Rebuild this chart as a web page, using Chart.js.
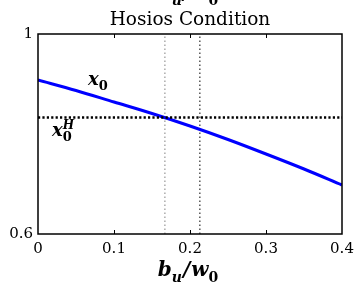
<!DOCTYPE html>
<html>
<head>
<meta charset="utf-8">
<script src="https://cdn.jsdelivr.net/npm/chart.js@4.4.0/dist/chart.umd.min.js"></script>
<style>
  html, body { margin: 0; padding: 0; background: #fff; }
  #wrap { width: 355px; height: 283px; position: relative; }
</style>
</head>
<body>
<div id="wrap"><canvas id="hosiosChart"></canvas></div>
<script>
// values
const bwRatio = [0, 0.05, 0.1, 0.15, 0.2, 0.25, 0.3, 0.35, 0.4];
const x0Values = [0.908, 0.887, 0.864, 0.841, 0.816, 0.789, 0.760, 0.730, 0.698];
const hosiosX0 = 0.833;
const greyMark = 0.167;
const blackMark = 0.213;
const xTicks = [0, 0.1, 0.2, 0.3, 0.4];
const yTicks = [0.6, 1];

const serif = "'DejaVu Serif', 'Liberation Serif', serif";

// draw base letter with optional sub / superscript, returns end x
function mathText(ctx, x, y, base, sub, sup, size) {
  ctx.font = "italic bold " + size + "px " + serif;
  ctx.textAlign = "left";
  ctx.textBaseline = "alphabetic";
  ctx.fillText(base, x, y);
  const w = ctx.measureText(base).width;
  let end = x + w;
  if (sub) {
    ctx.font = "bold " + Math.round(size * 0.7) + "px " + serif;
    ctx.fillText(sub, x + w, y + size * 0.28);
    end = Math.max(end, x + w + ctx.measureText(sub).width);
  }
  if (sup) {
    ctx.font = "italic bold " + Math.round(size * 0.65) + "px " + serif;
    ctx.fillText(sup, x + w, y - size * 0.4);
    end = Math.max(end, x + w + ctx.measureText(sup).width);
  }
  return end;
}

function ratioLabel(ctx, cx, y, size) {
  // b_u / w_0 centred at cx
  ctx.font = "italic bold " + size + "px " + serif;
  const wb = ctx.measureText("b").width;
  const wsl = ctx.measureText("/").width;
  const ww = ctx.measureText("w").width;
  ctx.font = "italic bold " + Math.round(size * 0.7) + "px " + serif;
  const wu = ctx.measureText("u").width;
  const w0 = ctx.measureText("0").width;
  const total = wb + wu + wsl + ww + w0 + 2;
  let x = cx - total / 2;
  x = mathText(ctx, x, y, "b", null, null, size);
  ctx.font = "italic bold " + Math.round(size * 0.7) + "px " + serif;
  ctx.fillText("u", x, y + size * 0.28);
  x += wu + 1;
  ctx.font = "italic bold " + size + "px " + serif;
  ctx.fillText("/", x, y);
  x += wsl + 1;
  mathText(ctx, x, y, "w", "0", null, size);
}

const decor = {
  id: "decor",
  afterDatasetsDraw(chart) {
    const ctx = chart.ctx;
    const a = chart.chartArea;
    const xs = chart.scales.x;
    const cx = (a.left + a.right) / 2;
    ctx.save();
    ctx.strokeStyle = "#000";
    ctx.lineWidth = 1.5;
    ctx.strokeRect(a.left, a.top, a.right - a.left, a.bottom - a.top);
    ctx.lineWidth = 1;
    xTicks.slice(1, -1).forEach(v => {
      const px = Math.round(xs.getPixelForValue(v)) + 0.5;
      ctx.beginPath();
      ctx.moveTo(px, a.bottom); ctx.lineTo(px, a.bottom - 4);
      ctx.moveTo(px, a.top); ctx.lineTo(px, a.top + 4);
      ctx.stroke();
    });
    ctx.fillStyle = "#000";
    // title
    ctx.font = "18.5px " + serif;
    ctx.textAlign = "center";
    ctx.textBaseline = "alphabetic";
    ctx.fillText("Hosios Condition", cx, 25);
    mathText(ctx, 88, 85, "x", "0", null, 18);
    mathText(ctx, 52, 136, "x", "0", "H", 18);
    ratioLabel(ctx, cx - 2, 276, 20);
    // label of the panel above, cut off at the top edge
    ratioLabel(ctx, cx - 2, -1, 20);
    ctx.restore();
  }
};

new Chart(document.getElementById("hosiosChart"), {
  type: "line",
  data: {
    datasets: [
      {
        label: "hosios",
        data: [{ x: 0, y: hosiosX0 }, { x: 0.4, y: hosiosX0 }],
        borderColor: "#000",
        borderWidth: 2.4,
        borderDash: [2.2, 2.2],
        pointRadius: 0,
        order: 0
      },
      {
        label: "x0",
        data: bwRatio.map((b, i) => ({ x: b, y: x0Values[i] })),
        borderColor: "#0000ff",
        borderWidth: 3,
        pointRadius: 0,
        cubicInterpolationMode: "monotone",
        order: 1
      },
      {
        label: "grey",
        data: [{ x: greyMark, y: 0.6 }, { x: greyMark, y: 1 }],
        borderColor: "#808080",
        borderWidth: 1,
        borderDash: [1.5, 2.5],
        pointRadius: 0,
        order: 2
      },
      {
        label: "black",
        data: [{ x: blackMark, y: 0.6 }, { x: blackMark, y: 1 }],
        borderColor: "#000",
        borderWidth: 1,
        borderDash: [1.5, 2.5],
        pointRadius: 0,
        order: 2
      }
    ]
  },
  options: {
    responsive: true,
    maintainAspectRatio: false,
    animation: false,
    layout: { padding: { left: 0, right: 13, top: 34, bottom: 0 } },
    plugins: {
      legend: { display: false },
      tooltip: { enabled: false },
      title: { display: false }
    },
    scales: {
      x: {
        type: "linear",
        min: 0,
        max: 0.4,
        afterBuildTicks: s => { s.ticks = xTicks.map(v => ({ value: v })); },
        afterFit: s => { s.height = 49; s.paddingLeft = 0; s.paddingRight = 0; },
        grid: { display: false, drawTicks: false },
        border: { display: false },
        ticks: {
          color: "#000",
          padding: 6,
          maxRotation: 0,
          font: { family: serif, size: 15 },
          callback: v => String(v)
        }
      },
      y: {
        type: "linear",
        min: 0.6,
        max: 1,
        afterBuildTicks: s => { s.ticks = yTicks.map(v => ({ value: v })); },
        afterFit: s => { s.width = 38; s.paddingTop = 0; s.paddingBottom = 0; },
        grid: { display: false, drawTicks: false },
        border: { display: false },
        ticks: {
          color: "#000",
          padding: 5,
          font: { family: serif, size: 15 },
          callback: v => String(v)
        }
      }
    }
  },
  plugins: [decor]
});
</script>
</body>
</html>
